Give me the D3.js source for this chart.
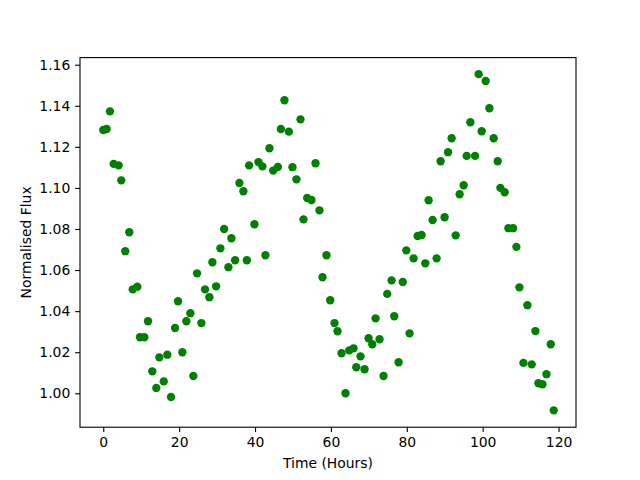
<!DOCTYPE html>
<html>
<head>
<meta charset="utf-8">
<script src="https://cdn.jsdelivr.net/npm/d3@7"></script>
<style>
  html, body { margin: 0; padding: 0; background: #fff; }
  svg { display: block; }
  text { font-family: "DejaVu Sans", sans-serif; fill: #000; }
</style>
</head>
<body>
<svg id="chart" width="640" height="480"></svg>
<script>
// Time in hours
const timeHours = [
  0.00, 0.90, 1.77, 2.74, 4.06, 4.75, 5.80, 6.86, 7.76, 8.97,
  9.68, 10.82, 11.79, 12.93, 13.98, 14.78, 15.94, 16.89, 17.86, 18.92,
  19.71, 20.84, 21.90, 22.96, 23.75, 24.72, 25.86, 26.83, 27.97, 28.76,
  29.74, 30.87, 31.85, 32.98, 33.77, 34.75, 35.88, 36.94, 37.84, 38.44,
  39.84, 40.90, 41.95, 42.74, 43.80, 44.78, 46.02, 46.81, 47.76, 48.92,
  49.87, 50.92, 51.98, 52.77, 53.75, 54.88, 55.94, 56.99, 57.78, 58.84,
  59.82, 60.95, 61.74, 62.80, 63.85, 64.83, 65.96, 66.68, 67.81, 68.87,
  69.92, 70.90, 71.77, 72.82, 73.88, 74.85, 75.99, 76.70, 77.84, 78.94,
  79.87, 80.74, 81.79, 82.85, 83.91, 84.88, 85.75, 86.81, 87.86, 88.92,
  89.97, 90.87, 91.82, 92.88, 93.93, 94.99, 95.78, 96.75, 98.00, 98.94,
  99.74, 100.79, 101.77, 102.90, 103.96, 104.67, 105.80, 106.78, 108.02, 108.89,
  109.68, 110.74, 111.79, 112.93, 113.90, 114.70, 115.75, 116.81, 117.94, 118.73
];
// Normalised flux
const normFlux = [
  1.1282, 1.1287, 1.1373, 1.1117, 1.1110, 1.1037, 1.0692, 1.0784, 1.0506, 1.0519,
  1.0273, 1.0273, 1.0351, 1.0107, 1.0026, 1.0175, 1.0058, 1.0188, 0.9982, 1.0318,
  1.0448, 1.0200, 1.0351, 1.0390, 1.0084, 1.0584, 1.0342, 1.0506, 1.0468, 1.0638,
  1.0521, 1.0706, 1.0800, 1.0614, 1.0755, 1.0648, 1.1024, 1.0984, 1.0648, 1.1110,
  1.0823, 1.1126, 1.1105, 1.0672, 1.1193, 1.1084, 1.1102, 1.1287, 1.1427, 1.1274,
  1.1101, 1.1042, 1.1334, 1.0847, 1.0951, 1.0941, 1.1120, 1.0891, 1.0565, 1.0672,
  1.0453, 1.0342, 1.0302, 1.0195, 1.0000, 1.0209, 1.0219, 1.0127, 1.0180, 1.0117,
  1.0268, 1.0239, 1.0365, 1.0263, 1.0084, 1.0484, 1.0550, 1.0375, 1.0151, 1.0542,
  1.0696, 1.0292, 1.0657, 1.0766, 1.0771, 1.0633, 1.0940, 1.0844, 1.0657, 1.1130,
  1.0857, 1.1174, 1.1242, 1.0769, 1.0969, 1.1013, 1.1156, 1.1320, 1.1156, 1.1554,
  1.1276, 1.1521, 1.1388, 1.1242, 1.1130, 1.1000, 1.0979, 1.0804, 1.0804, 1.0713,
  1.0516, 1.0148, 1.0429, 1.0141, 1.0303, 1.0049, 1.0044, 1.0093, 1.0239, 0.9917
];
const xTickValues = [0, 20, 40, 60, 80, 100, 120];
const yTickValues = [1.00, 1.02, 1.04, 1.06, 1.08, 1.10, 1.12, 1.14, 1.16];
const xLabel = "Time (Hours)";
const yLabel = "Normalised Flux";

const svg = d3.select("#chart");
const L = 80, R = 576, T = 57.6, B = 427.2;

const x = d3.scaleLinear().domain([-6.13, 124.6]).range([L, R]);
const y = d3.scaleLinear().domain([0.98349, 1.16346]).range([B, T]);

const tickLen = 4.86;
const fontPx = 13.9;

// points
svg.append("g")
  .selectAll("circle")
  .data(timeHours.map((t, i) => ({ t, f: normFlux[i] })))
  .join("circle")
  .attr("cx", d => x(d.t))
  .attr("cy", d => y(d.f))
  .attr("r", 4.17)
  .attr("fill", "#008000");

// x axis
const xAxis = d3.axisBottom(x).tickValues(xTickValues).tickFormat(d3.format("d"))
  .tickSizeInner(tickLen).tickSizeOuter(0).tickPadding(4.86);
const gx = svg.append("g").attr("transform", `translate(0,${B})`).call(xAxis);
gx.select(".domain").remove();
gx.selectAll(".tick line").attr("stroke", "#000").attr("stroke-width", 1.1);
gx.selectAll(".tick text").attr("font-family", "DejaVu Sans").attr("font-size", fontPx).attr("fill", "#000");

// y axis
const yAxis = d3.axisLeft(y).tickValues(yTickValues).tickFormat(d3.format(".2f"))
  .tickSizeInner(tickLen).tickSizeOuter(0).tickPadding(4.86);
const gy = svg.append("g").attr("transform", `translate(${L},0)`).call(yAxis);
gy.select(".domain").remove();
gy.selectAll(".tick line").attr("stroke", "#000").attr("stroke-width", 1.1);
gy.selectAll(".tick text").attr("font-family", "DejaVu Sans").attr("font-size", fontPx).attr("fill", "#000");

// frame
svg.append("rect")
  .attr("x", L).attr("y", T).attr("width", R - L).attr("height", B - T)
  .attr("fill", "none").attr("stroke", "#000").attr("stroke-width", 1.1);

// labels
svg.append("text")
  .attr("x", (L + R) / 2).attr("y", 468)
  .attr("text-anchor", "middle")
  .attr("font-size", fontPx)
  .text(xLabel);

svg.append("text")
  .attr("transform", `translate(31,${(T + B) / 2}) rotate(-90)`)
  .attr("text-anchor", "middle")
  .attr("font-size", fontPx)
  .text(yLabel);
</script>
</body>
</html>
